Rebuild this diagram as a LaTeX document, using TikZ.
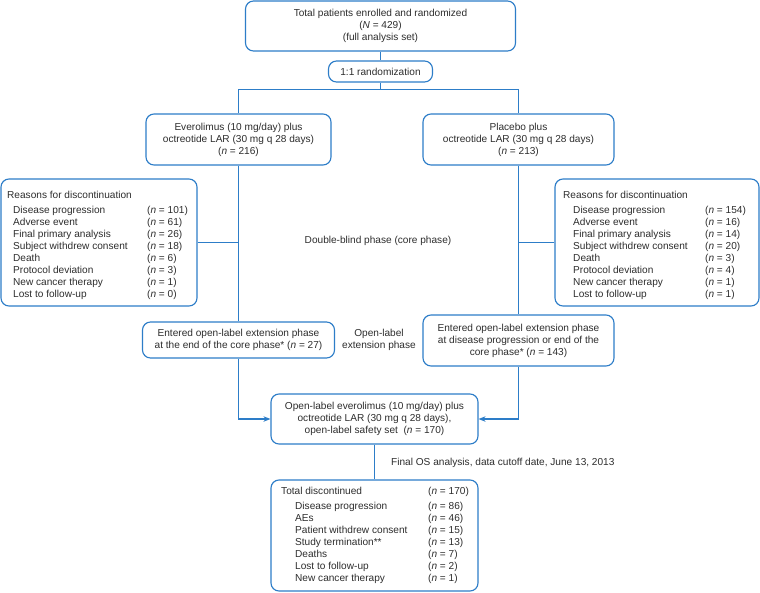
\documentclass[tikz,border=0pt]{standalone}
\usepackage{fontspec}
\setmainfont{Liberation Sans}
\usetikzlibrary{arrows.meta}
\definecolor{lineblue}{RGB}{45,125,200}
\definecolor{txt}{RGB}{45,45,45}
\begin{document}
\begin{tikzpicture}[x=1pt,y=-1pt,
  box/.style={draw=lineblue, line width=1.15pt, rounded corners=8pt, inner sep=0pt, fill=white},
  ctext/.style={align=center, text=txt, font=\fontsize{10.1}{12}\selectfont, inner sep=0pt},
  ltext/.style={anchor=base west, text=txt, font=\fontsize{10.1}{12}\selectfont, inner sep=0pt},
  conn/.style={draw=lineblue, line width=1.15pt},
  arr/.style={conn, -{Stealth[length=7pt,width=5.5pt]}}
]
\useasboundingbox[fill=white] (0,0) rectangle (760,592);

% boxes
\node[box, minimum width=270pt, minimum height=50pt] (top) at (380.5,26) {};
\node[ctext] (toptext) at (top.center) {Total patients enrolled and randomized\\(\textit{N} = 429)\\(full analysis set)};
\node[box, minimum width=104pt, minimum height=21pt] (rand) at (380.5,71.5) {};
\node[ctext] (randtext) at (rand.center) {1:1 randomization};

\node[box, minimum width=185pt, minimum height=51pt] (larm) at (238.5,139.5) {};
\node[ctext] (larmtext) at (larm.center) {Everolimus (10 mg/day) plus\\octreotide LAR (30 mg q 28 days)\\(\textit{n} = 216)};
\node[box, minimum width=191pt, minimum height=51pt] (rarm) at (518.5,139.5) {};
\node[ctext] (rarmtext) at (rarm.center) {Placebo plus\\octreotide LAR (30 mg q 28 days)\\(\textit{n} = 213)};

\node[box, minimum width=196pt, minimum height=127pt] (lreas) at (99,242.5) {};
\node[box, minimum width=204pt, minimum height=127pt] (rreas) at (657,242.5) {};

\node[box, minimum width=192pt, minimum height=36pt] (lol) at (238.5,340) {};
\node[ctext] (loltext) at (lol.center) {Entered open-label extension phase\\at the end of the core phase* (\textit{n} = 27)};
\node[box, minimum width=191pt, minimum height=51pt] (rol) at (518.5,340.5) {};
\node[ctext] (roltext) at (rol.center) {Entered open-label extension phase\\at disease progression or end of the\\core phase* (\textit{n} = 143)};

\node[box, minimum width=207pt, minimum height=50pt] (cen) at (374.5,419) {};
\node[ctext] (centext) at (cen.center) {Open-label everolimus (10 mg/day) plus\\octreotide LAR (30 mg q 28 days),\\open-label safety set\ \ (\textit{n} = 170)};

\node[box, minimum width=207pt, minimum height=111pt] (bot) at (374.5,535.5) {};

% free labels
\node[ctext] (dbl) at (378,241) {Double-blind phase (core phase)};
\node[ctext] (olx) at (379,340) {Open-label\\extension phase};
\node[ltext] (final) at (391,465.5) {Final OS analysis, data cutoff date, June 13, 2013};

% left reasons list
\node[ltext] (lh) at (7,198.5) {Reasons for discontinuation};
\foreach \t/\v [count=\i from 0] in {Disease progression/101, Adverse event/61, Final primary analysis/26, Subject withdrew consent/18, Death/6, Protocol deviation/3, New cancer therapy/1, Lost to follow-up/0}{
  \node[ltext] (li\i) at (13,213.5+12*\i) {\t};
  \node[ltext] (lv\i) at (147,213.5+12*\i) {(\textit{n} = \v)};
}
% right reasons list
\node[ltext] (rh) at (563,198.5) {Reasons for discontinuation};
\foreach \t/\v [count=\i from 0] in {Disease progression/154, Adverse event/16, Final primary analysis/14, Subject withdrew consent/20, Death/3, Protocol deviation/4, New cancer therapy/1, Lost to follow-up/1}{
  \node[ltext] (ri\i) at (573,213.5+12*\i) {\t};
  \node[ltext] (rv\i) at (705,213.5+12*\i) {(\textit{n} = \v)};
}
% bottom list
\node[ltext] (bh) at (281,494.5) {Total discontinued};
\node[ltext] (bhv) at (428,494.5) {(\textit{n} = 170)};
\foreach \t/\v [count=\i from 0] in {Disease progression/86, AEs/46, Patient withdrew consent/15, Study termination**/13, Deaths/7, Lost to follow-up/2, New cancer therapy/1}{
  \node[ltext] (bi\i) at (295,509.5+12*\i) {\t};
  \node[ltext] (bv\i) at (428,509.5+12*\i) {(\textit{n} = \v)};
}

% connectors
\draw[conn] (top.south) -- (rand.north);
\draw[conn] (rand.south) -- ++(0,7) coordinate (sp) -| (larm.north);
\draw[conn] (sp) -| (rarm.north);
\draw[conn] (larm.south) -- (larm.south |- lol.north);
\draw[conn] (rarm.south) -- (rarm.south |- rol.north);
\draw[conn] (lreas.east) -- (lreas.east -| larm.south);
\draw[conn] (rreas.west) -- (rreas.west -| rarm.south);
\draw[arr] (lol.south) |- (cen.west);
\draw[arr] (rol.south) |- (cen.east);
\draw[conn] (cen.south) -- (bot.north);
\end{tikzpicture}
\end{document}
